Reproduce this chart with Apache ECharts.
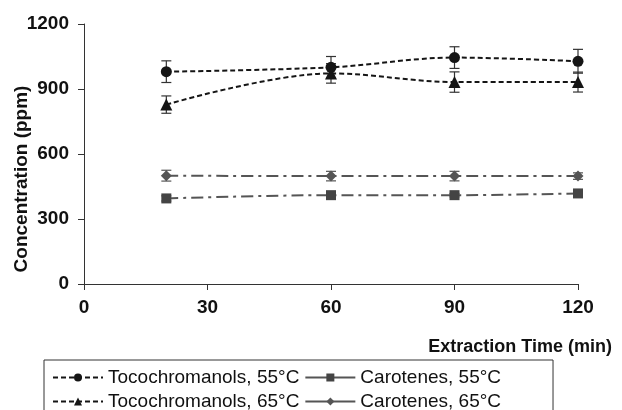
<!DOCTYPE html>
<html><head><meta charset="utf-8">
<script src="https://cdn.jsdelivr.net/npm/echarts@6/dist/echarts.min.js"></script>
<style>html,body{margin:0;padding:0;background:#fff}#c{width:622px;height:410px}</style>
</head><body><div id="c"></div>
<script>
var times = [20, 60, 90, 120];
var seriesNames = ['Tocochromanols, 55°C', 'Carotenes, 55°C', 'Tocochromanols, 65°C', 'Carotenes, 65°C'];
var toco55 = [980, 1000, 1045, 1028];
var toco55Err = [50, 50, 50, 55];
var caro55 = [395, 410, 410, 418];
var caro55Err = [12, 8, 8, 5];
var toco65 = [828, 972, 932, 932];
var toco65Err = [40, 45, 47, 46];
var caro65 = [500, 498, 498, 498];
var caro65Err = [25, 22, 22, 15];
var xTicks = [0, 30, 60, 90, 120];
var yTicks = [0, 300, 600, 900, 1200];

var FONT = '"Liberation Sans", Arial, sans-serif';
function pairs(v){ return times.map(function(t,i){ return [t, v[i]]; }); }
function errData(v,e){ return times.map(function(t,i){ return [t, v[i]-e[i], v[i]+e[i]]; }); }
function errSeries(v,e,color){
  return {
    type:'custom', silent:true, z:1,
    data: errData(v,e),
    renderItem: function(params, api){
      var lo = api.coord([api.value(0), api.value(1)]);
      var hi = api.coord([api.value(0), api.value(2)]);
      var w = 5;
      var st = {stroke: color, lineWidth: 1.2};
      return {type:'group', children:[
        {type:'line', shape:{x1:lo[0],y1:lo[1],x2:hi[0],y2:hi[1]}, style:st},
        {type:'line', shape:{x1:lo[0]-w,y1:lo[1],x2:lo[0]+w,y2:lo[1]}, style:st},
        {type:'line', shape:{x1:hi[0]-w,y1:hi[1],x2:hi[0]+w,y2:hi[1]}, style:st}
      ]};
    }
  };
}
var tocoColor = '#151515', caroColor = '#555555';
var chart = echarts.init(document.getElementById('c'), null, {renderer:'canvas'});
chart.setOption({
  animation:false,
  backgroundColor:'#fff',
  grid:{left:84, right:44, top:24, bottom:126, containLabel:false, outerBoundsMode:'none'},
  title:{text:'Extraction Time (min)', right:5, top:333,
    textStyle:{fontFamily:FONT, fontSize:18, fontWeight:'bold', color:'#111'}},
  legend:{
    left:44, top:360, width:480, orient:'horizontal',
    padding:[8, 52, 30, 8], itemGap:5, itemWidth:50, itemHeight:10,
    borderColor:'#333', borderWidth:1, borderRadius:0,
    textStyle:{fontFamily:FONT, fontSize:19, color:'#111', lineHeight:17},
    data:[
      {name:seriesNames[0]},
      {name:seriesNames[1], lineStyle:{type:'solid'}},
      {name:seriesNames[2]},
      {name:seriesNames[3], lineStyle:{type:'solid'}}
    ]
  },
  xAxis:{type:'value', min:0, max:120, interval:30,
    axisLine:{lineStyle:{color:'#333', width:1}},
    axisTick:{show:true, length:6, inside:false, lineStyle:{color:'#333'}},
    splitLine:{show:false},
    axisLabel:{margin:14, fontFamily:FONT, fontSize:19, fontWeight:'bold', color:'#111',
      formatter:function(v){ return xTicks.indexOf(v)>=0 ? String(v) : ''; }}
  },
  yAxis:{type:'value', min:0, max:1200, interval:300,
    name:'Concentration (ppm)', nameLocation:'middle', nameGap:53, nameMoveOverlap:false,
    nameTextStyle:{fontFamily:FONT, fontSize:19, fontWeight:'bold', color:'#111', padding:[0, 50, 0, 0]},
    axisLine:{show:true, lineStyle:{color:'#333', width:1}},
    axisTick:{show:true, length:6, lineStyle:{color:'#333'}},
    splitLine:{show:false},
    axisLabel:{margin:15, fontFamily:FONT, fontSize:19, fontWeight:'bold', color:'#111',
      formatter:function(v){ return yTicks.indexOf(v)>=0 ? String(v) : ''; }}
  },
  series:[
    errSeries(toco55, toco55Err, '#333'),
    errSeries(toco65, toco65Err, '#333'),
    errSeries(caro55, caro55Err, '#555'),
    errSeries(caro65, caro65Err, '#555'),
    {name:seriesNames[0], type:'line', data:pairs(toco55), smooth:0.35, z:3,
      symbol:'circle', symbolSize:11, itemStyle:{color:tocoColor},
      lineStyle:{color:tocoColor, width:2, type:[5,3]}},
    {name:seriesNames[1], type:'line', data:pairs(caro55), smooth:0.35, z:3,
      symbol:'rect', symbolSize:10, itemStyle:{color:'#444'},
      lineStyle:{color:caroColor, width:2, type:[12,5,3,5]}},
    {name:seriesNames[2], type:'line', data:pairs(toco65), smooth:0.35, z:3,
      symbol:'triangle', symbolSize:12, itemStyle:{color:tocoColor},
      lineStyle:{color:tocoColor, width:2, type:[5,3]}},
    {name:seriesNames[3], type:'line', data:pairs(caro65), smooth:0.35, z:3,
      symbol:'diamond', symbolSize:11, itemStyle:{color:caroColor},
      lineStyle:{color:caroColor, width:2, type:[12,5,3,5]}}
  ]
});
</script></body></html>
